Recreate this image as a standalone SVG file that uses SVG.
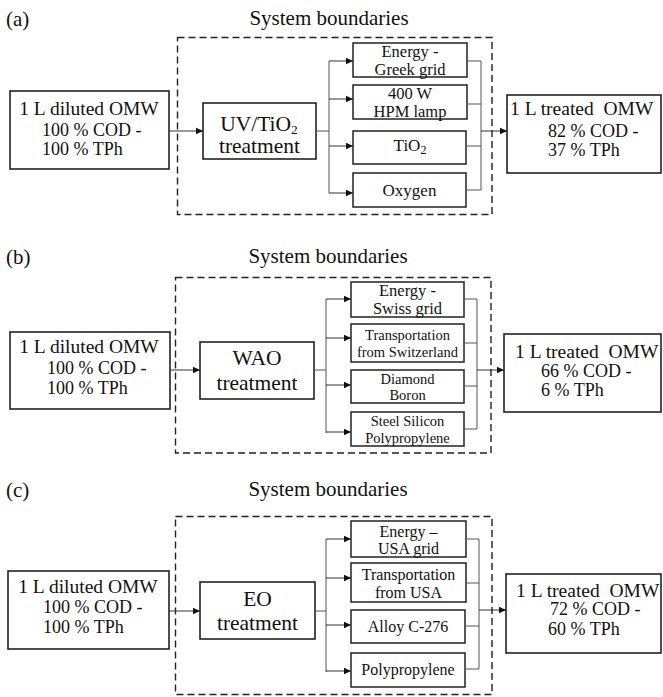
<svg xmlns="http://www.w3.org/2000/svg" width="663" height="697" viewBox="0 0 663 697">
<defs>
<marker id="ah" markerWidth="8" markerHeight="8" refX="7" refY="4" orient="auto" markerUnits="userSpaceOnUse">
<path d="M0,0.8 L7,4 L0,7.2 Z" fill="#111"/>
</marker>
<style>
.box{fill:#fff;stroke:#222;stroke-width:1.6;}
.sub{fill:#fff;stroke:#222;stroke-width:1.5;}
.bound{fill:none;stroke:#222;stroke-width:1.4;stroke-dasharray:7,4;}
.ln{fill:none;stroke:#555;stroke-width:1;}
.arr{fill:none;stroke:#333;stroke-width:1;marker-end:url(#ah);}
</style>
</defs>

<!-- Panel (a) -->
<g id="panel-a">
<text style="font-family:'Liberation Serif',serif" font-size="21" fill="#111" x="6" y="26">(a)</text>
<text style="font-family:'Liberation Serif',serif" font-size="21" fill="#111" text-anchor="middle" x="329" y="25">System boundaries</text>
<rect id="a-boundary" class="bound" x="177.5" y="37.5" width="314.5" height="177"/>
</g>
<g id="a-input">
<rect class="box" x="10" y="91" width="159" height="78"/>
<text style="font-family:'Liberation Serif',serif" font-size="19.5" fill="#111" x="89" y="115" text-anchor="middle">1 L diluted OMW</text>
<text style="font-family:'Liberation Serif',serif" font-size="18" fill="#111" x="42" y="136">100 % COD -</text>
<text style="font-family:'Liberation Serif',serif" font-size="18" fill="#111" x="42" y="155">100 % TPh</text>
</g>
<g id="a-treatment">
<rect class="box" x="203" y="103" width="113" height="56"/>
<text style="font-family:'Liberation Serif',serif" font-size="21.5" fill="#111" text-anchor="middle" x="259" y="130.5">UV/TiO<tspan font-size="13.5" dy="3">2</tspan></text>
<text style="font-family:'Liberation Serif',serif" font-size="21.5" fill="#111" text-anchor="middle" x="259.5" y="153">treatment</text>
</g>
<g id="a-energy">
<rect class="sub" x="353" y="43" width="114" height="34"/>
<text style="font-family:'Liberation Serif',serif" font-size="16.5" fill="#111" text-anchor="middle" x="410" y="57">Energy -</text>
<text style="font-family:'Liberation Serif',serif" font-size="16.5" fill="#111" text-anchor="middle" x="410" y="74.5">Greek grid</text>
</g>
<g id="a-lamp">
<rect class="sub" x="353" y="85" width="114" height="34"/>
<text style="font-family:'Liberation Serif',serif" font-size="16.5" fill="#111" text-anchor="middle" x="410" y="98.5">400 W</text>
<text style="font-family:'Liberation Serif',serif" font-size="16.5" fill="#111" text-anchor="middle" x="410" y="116.5">HPM lamp</text>
</g>
<g id="a-tio2">
<rect class="sub" x="353" y="131" width="113" height="33"/>
<text style="font-family:'Liberation Serif',serif" font-size="17" fill="#111" text-anchor="middle" x="410" y="151">TiO<tspan font-size="12" dy="3">2</tspan></text>
</g>
<g id="a-oxygen">
<rect class="sub" x="353" y="173" width="113" height="34"/>
<text style="font-family:'Liberation Serif',serif" font-size="17" fill="#111" text-anchor="middle" x="409.5" y="196">Oxygen</text>
</g>
<g id="a-output">
<rect class="box" x="507" y="95" width="154" height="78"/>
<text style="font-family:'Liberation Serif',serif" font-size="19.5" fill="#111" x="510" y="115">1 L treated&#160; OMW</text>
<text style="font-family:'Liberation Serif',serif" font-size="18" fill="#111" x="548" y="137">82 % COD -</text>
<text style="font-family:'Liberation Serif',serif" font-size="18" fill="#111" x="548" y="156">37 % TPh</text>
</g>
<g id="a-connectors">
<line class="arr" x1="169" y1="131" x2="203" y2="131"/>
<path class="ln" d="M316,131 H329 M329,61 V193"/>
<line class="arr" x1="329" y1="61" x2="353" y2="61"/>
<line class="arr" x1="329" y1="99" x2="353" y2="99"/>
<line class="arr" x1="329" y1="146" x2="353" y2="146"/>
<line class="arr" x1="329" y1="193" x2="353" y2="193"/>
<path class="ln" d="M467,61 H481 M467,104 H481 M466,146 H481 M466,190 H481 M481,61 V190"/>
<line class="arr" x1="481" y1="131" x2="507" y2="131"/>
</g>

<!-- Panel (b) -->
<g id="panel-b">
<text style="font-family:'Liberation Serif',serif" font-size="21" fill="#111" x="6" y="264">(b)</text>
<text style="font-family:'Liberation Serif',serif" font-size="21" fill="#111" text-anchor="middle" x="328" y="263">System boundaries</text>
<rect id="b-boundary" class="bound" x="175.5" y="277.5" width="315.5" height="175.5"/>
</g>
<g id="b-input">
<rect class="box" x="10" y="332" width="160" height="77"/>
<text style="font-family:'Liberation Serif',serif" font-size="19.5" fill="#111" x="89" y="353" text-anchor="middle">1 L diluted OMW</text>
<text style="font-family:'Liberation Serif',serif" font-size="18" fill="#111" x="47" y="374">100 % COD -</text>
<text style="font-family:'Liberation Serif',serif" font-size="18" fill="#111" x="47" y="394">100 % TPh</text>
</g>
<g id="b-treatment">
<rect class="box" x="200" y="342" width="114" height="57"/>
<text style="font-family:'Liberation Serif',serif" font-size="21.5" fill="#111" text-anchor="middle" x="257" y="365">WAO</text>
<text style="font-family:'Liberation Serif',serif" font-size="21.5" fill="#111" text-anchor="middle" x="257" y="390">treatment</text>
</g>
<g id="b-energy">
<rect class="sub" x="351" y="282" width="113" height="35"/>
<text style="font-family:'Liberation Serif',serif" font-size="16.5" fill="#111" text-anchor="middle" x="407.5" y="296">Energy -</text>
<text style="font-family:'Liberation Serif',serif" font-size="16.5" fill="#111" text-anchor="middle" x="407.5" y="314">Swiss grid</text>
</g>
<g id="b-transport">
<rect class="sub" x="351" y="324" width="113" height="38"/>
<text style="font-family:'Liberation Serif',serif" font-size="14.5" fill="#111" text-anchor="middle" x="407.5" y="340">Transportation</text>
<text style="font-family:'Liberation Serif',serif" font-size="14.5" fill="#111" text-anchor="middle" x="407.5" y="357">from Switzerland</text>
</g>
<g id="b-diamond">
<rect class="sub" x="351" y="370" width="113" height="33"/>
<text style="font-family:'Liberation Serif',serif" font-size="14.5" fill="#111" text-anchor="middle" x="407.5" y="384">Diamond</text>
<text style="font-family:'Liberation Serif',serif" font-size="14.5" fill="#111" text-anchor="middle" x="407.5" y="400">Boron</text>
</g>
<g id="b-steel">
<rect class="sub" x="351" y="412" width="113" height="34"/>
<text style="font-family:'Liberation Serif',serif" font-size="14.5" fill="#111" text-anchor="middle" x="407.5" y="426">Steel Silicon</text>
<text style="font-family:'Liberation Serif',serif" font-size="14.5" fill="#111" text-anchor="middle" x="407.5" y="443">Polypropylene</text>
</g>
<g id="b-output">
<rect class="box" x="504" y="334" width="157" height="78"/>
<text style="font-family:'Liberation Serif',serif" font-size="19.5" fill="#111" x="515" y="358">1 L treated&#160; OMW</text>
<text style="font-family:'Liberation Serif',serif" font-size="18" fill="#111" x="541" y="377">66 % COD -</text>
<text style="font-family:'Liberation Serif',serif" font-size="18" fill="#111" x="541" y="396">6 % TPh</text>
</g>
<g id="b-connectors">
<line class="arr" x1="170" y1="370" x2="200" y2="370"/>
<path class="ln" d="M314,370 H326 M326,299 V433"/>
<line class="arr" x1="326" y1="299" x2="351" y2="299"/>
<line class="arr" x1="326" y1="338" x2="351" y2="338"/>
<line class="arr" x1="326" y1="385" x2="351" y2="385"/>
<line class="arr" x1="326" y1="432" x2="351" y2="432"/>
<path class="ln" d="M464,299 H477 M464,343 H477 M464,386 H477 M464,429 H477 M477,299 V429"/>
<line class="arr" x1="477" y1="370" x2="504" y2="370"/>
</g>

<!-- Panel (c) -->
<g id="panel-c">
<text style="font-family:'Liberation Serif',serif" font-size="21" fill="#111" x="6" y="497">(c)</text>
<text style="font-family:'Liberation Serif',serif" font-size="21" fill="#111" text-anchor="middle" x="328" y="496">System boundaries</text>
<rect id="c-boundary" class="bound" x="175.5" y="516.5" width="316.5" height="178"/>
</g>
<g id="c-input">
<rect class="box" x="8" y="571" width="161" height="78"/>
<text style="font-family:'Liberation Serif',serif" font-size="19.5" fill="#111" x="88" y="593" text-anchor="middle">1 L diluted OMW</text>
<text style="font-family:'Liberation Serif',serif" font-size="18" fill="#111" x="43" y="613">100 % COD -</text>
<text style="font-family:'Liberation Serif',serif" font-size="18" fill="#111" x="43" y="633">100 % TPh</text>
</g>
<g id="c-treatment">
<rect class="box" x="200" y="582" width="115" height="57"/>
<text style="font-family:'Liberation Serif',serif" font-size="21.5" fill="#111" text-anchor="middle" x="257.5" y="606">EO</text>
<text style="font-family:'Liberation Serif',serif" font-size="21.5" fill="#111" text-anchor="middle" x="257.5" y="630">treatment</text>
</g>
<g id="c-energy">
<rect class="sub" x="351" y="521" width="115" height="36"/>
<text style="font-family:'Liberation Serif',serif" font-size="16" fill="#111" text-anchor="middle" x="408.5" y="536.5">Energy –</text>
<text style="font-family:'Liberation Serif',serif" font-size="16" fill="#111" text-anchor="middle" x="408.5" y="554">USA grid</text>
</g>
<g id="c-transport">
<rect class="sub" x="351" y="563" width="115" height="39"/>
<text style="font-family:'Liberation Serif',serif" font-size="16" fill="#111" text-anchor="middle" x="408.5" y="580">Transportation</text>
<text style="font-family:'Liberation Serif',serif" font-size="16" fill="#111" text-anchor="middle" x="408.5" y="598">from USA</text>
</g>
<g id="c-alloy">
<rect class="sub" x="351" y="610" width="114" height="33"/>
<text style="font-family:'Liberation Serif',serif" font-size="16" fill="#111" text-anchor="middle" x="408" y="632">Alloy C-276</text>
</g>
<g id="c-pp">
<rect class="sub" x="351" y="653" width="114" height="34"/>
<text style="font-family:'Liberation Serif',serif" font-size="16" fill="#111" text-anchor="middle" x="408" y="675">Polypropylene</text>
</g>
<g id="c-output">
<rect class="box" x="506" y="574" width="155" height="79"/>
<text style="font-family:'Liberation Serif',serif" font-size="19.5" fill="#111" x="516" y="597">1 L treated&#160; OMW</text>
<text style="font-family:'Liberation Serif',serif" font-size="18" fill="#111" x="550" y="615">72 % COD -</text>
<text style="font-family:'Liberation Serif',serif" font-size="18" fill="#111" x="548" y="635">60 % TPh</text>
</g>
<g id="c-connectors">
<line class="arr" x1="169" y1="611" x2="200" y2="611"/>
<path class="ln" d="M315,611 H326 M326,539 V672"/>
<line class="arr" x1="326" y1="539" x2="351" y2="539"/>
<line class="arr" x1="326" y1="578" x2="351" y2="578"/>
<line class="arr" x1="326" y1="625" x2="351" y2="625"/>
<line class="arr" x1="326" y1="671" x2="351" y2="671"/>
<path class="ln" d="M466,539 H479 M466,583 H479 M465,626 H479 M465,669 H479 M479,539 V669"/>
<line class="arr" x1="479" y1="610" x2="506" y2="610"/>
</g>
</svg>
